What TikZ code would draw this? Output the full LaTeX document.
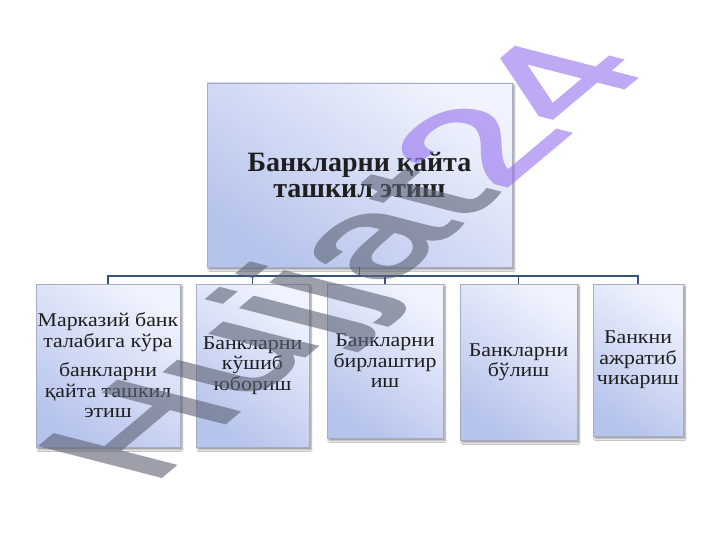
\documentclass[tikz,border=0pt]{standalone}
\usepackage{fontspec}
\setmainfont{Liberation Serif}
\newfontfamily\kidserif[FakeStretch=1.12]{Liberation Serif}
\newfontfamily\wmfont[FakeBold=2]{Liberation Sans}
\usetikzlibrary{shadows.blur}
\definecolor{boxtop}{RGB}{240,243,253}
\definecolor{boxbot}{RGB}{182,195,236}
\definecolor{linkc}{RGB}{52,84,124}
\definecolor{edgec}{RGB}{165,172,195}
\definecolor{wmgray}{RGB}{92,98,116}
\definecolor{wmpurple}{RGB}{150,112,238}
\tikzset{
  box/.style={draw=edgec, line width=0.6pt, top color=boxtop, bottom color=boxbot,
    shading angle=-35, align=center, inner sep=0pt, text=black!88,
    blur shadow={shadow xshift=2pt, shadow yshift=-2.5pt, shadow blur steps=4, shadow opacity=45}},
  topfont/.style={font=\fontsize{28}{26.5}\selectfont\bfseries},
  kidfont/.style={font=\kidserif\fontsize{19.5}{20.5}\selectfont},
  link/.style={draw=linkc, line width=1.6pt},
}
\begin{document}
\begin{tikzpicture}[x=1pt,y=-1pt]
\useasboundingbox[fill=white] (0,0) rectangle (720,540);
\node[box, topfont, minimum width=305pt, minimum height=184pt] (top) at (359.5,175)
  {Банкларни қайта\\ташкил этиш};
\node[box, kidfont, minimum width=144pt, minimum height=163pt] (c1) at (108,365.5)
  {Марказий банк\\талабига кўра\\[9pt]банкларни\\қайта ташкил\\этиш};
\node[box, kidfont, minimum width=113pt, minimum height=163pt] (c2) at (252.5,365.5)
  {Банкларни\\кўшиб\\юбориш};
\node[box, kidfont, minimum width=116pt, minimum height=154pt] (c3) at (385,361)
  {Банкларни\\бирлаштир\\иш};
\node[box, kidfont, minimum width=117pt, minimum height=156pt] (c4) at (518.5,362)
  {Банкларни\\бўлиш};
\node[box, kidfont, minimum width=90pt, minimum height=152pt] (c5) at (638,360)
  {Банкни\\ажратиб\\чикариш};
\coordinate (bus) at (359.5,276);
\draw[link] (top.south) -- (bus);
\foreach \k in {c1,c2,c3,c4,c5} { \draw[link] (\k.north) |- (bus); }
\begin{scope}[transparency group, opacity=0.6]
\begin{scope}[shift={(150,486)}, cm={1.37,1.15,-1.75,0.45,(0,0)}]
  \node[transform shape, anchor=base west, inner sep=0pt,
    font=\wmfont\fontsize{100}{100}\selectfont] (wm)
    {\textcolor{wmgray}{Hujjat}\textcolor{wmpurple}{24}};
\end{scope}
\end{scope}
\end{tikzpicture}
\end{document}
